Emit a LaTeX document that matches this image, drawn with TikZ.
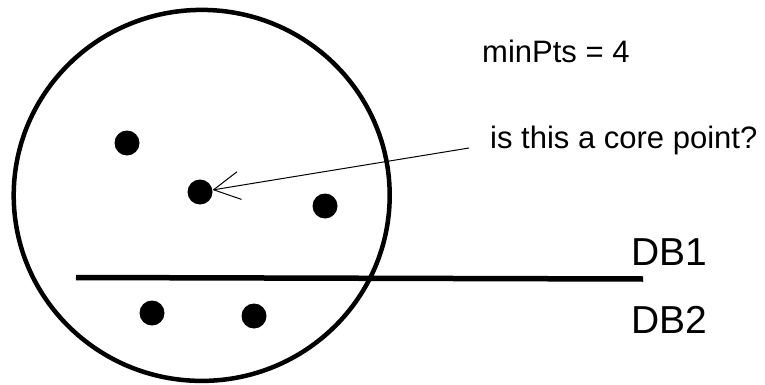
\documentclass[tikz,border=0pt]{standalone}
\usepackage{fontspec}
\setmainfont{Liberation Sans}
\usetikzlibrary{arrows.meta}
\begin{document}
\begin{tikzpicture}[x=1pt,y=-1pt,
  dot/.style={circle,fill=black,inner sep=0pt,minimum size=25pt},
  lbl/.style={anchor=base west,inner sep=0pt},
  pointer/.style={line width=1pt,-{Straight Barb[length=26pt,width=28pt]}}]
\useasboundingbox (0,0) rectangle (765,385);
\draw[line width=4.5pt] (201.7,195.4) ellipse [x radius=188, y radius=185.5];
\node[dot] (p1) at (127,143) {};
\node[dot] (p2) at (200,192) {};
\node[dot] (p3) at (325,206) {};
\node[dot] (p4) at (152,313) {};
\node[dot] (p5) at (254,316) {};
\coordinate (lineL) at (76,277.5);
\coordinate (lineR) at (643,279);
\draw[line width=5.5pt] (lineL) -- (lineR);
\node[lbl,font=\fontsize{31}{36}\selectfont] (minpts) at (482,63) {minPts = 4};
\node[lbl,font=\fontsize{31}{36}\selectfont] (q) at (490,148) {is this a core point?};
\coordinate (arrstart) at (469,148);
\draw[pointer] (arrstart) -- (p2);
\node[lbl,font=\fontsize{39}{44}\selectfont] (db1) at (631,265) {DB1};
\node[lbl,font=\fontsize{39}{44}\selectfont] (db2) at (631,333) {DB2};
\end{tikzpicture}
\end{document}
